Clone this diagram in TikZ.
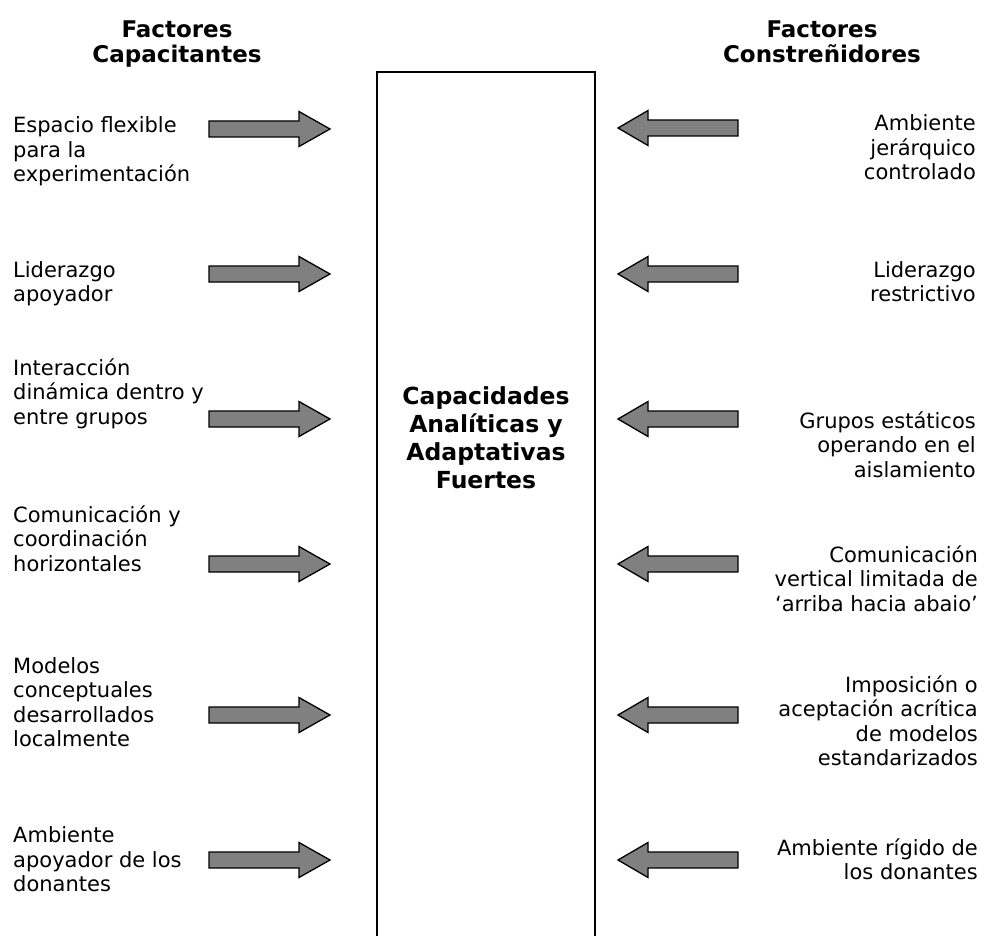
\documentclass[tikz,border=0pt]{standalone}
\usepackage{fontspec}
\setmainfont{DejaVu Sans}
\begin{document}
\begin{tikzpicture}[x=1pt,y=-1pt,
  lbl/.style={inner sep=0pt,font=\fontsize{21pt}{24.5pt}\selectfont},
  lleft/.style={lbl,align=left,anchor=base west},
  lright/.style={lbl,align=right,anchor=base east},
  hdr/.style={inner sep=0pt,align=center,anchor=base,font=\bfseries\fontsize{23pt}{24.5pt}\selectfont},
  arrowfill/.style={draw=black,line width=1.3pt,fill=black!50,line join=miter},
  rarr/.pic={\path[arrowfill] (0,-8) -- (90,-8) -- (90,-17.5) -- (121,0) -- (90,17.5) -- (90,8) -- (0,8) -- cycle;},
  larr/.pic={\path[arrowfill] (0,-8) -- (-90,-8) -- (-90,-17.5) -- (-120,0) -- (-90,17.5) -- (-90,8) -- (0,8) -- cycle;}
]
\useasboundingbox (0,0) rectangle (988,936);
\fill[white] (0,0) rectangle (988,936);

% central box (open at the bottom edge of the picture)
\coordinate (bl) at (377,937);
\coordinate (tl) at (377,72);
\coordinate (tr) at (595,72);
\coordinate (br) at (595,937);
\draw[line width=2pt,line join=miter] (bl) -- (tl) -- (tr) -- (br);
\node[hdr,font=\bfseries\fontsize{23.5pt}{28pt}\selectfont] (core) at (486,488) {Capacidades\\Analíticas y\\Adaptativas\\Fuertes};

% headers
\node[hdr] (hl) at (177,62.5) {Factores\\Capacitantes};
\node[hdr] (hr) at (822,62.5) {Factores\\Constreñidores};

% left labels (anchored at the baseline of the last line)
\node[lleft] (l1) at (13,182) {Espacio flexible\\para la\\experimentación};
\node[lleft] (l2) at (13,301.5) {Liderazgo\\apoyador};
\node[lleft] (l3) at (13,424) {Interacción\\dinámica dentro y\\entre grupos};
\node[lleft] (l4) at (13,571) {Comunicación y\\coordinación\\horizontales};
\node[lleft] (l5) at (13,746.5) {Modelos\\conceptuales\\desarrollados\\localmente};
\node[lleft] (l6) at (13,891.5) {Ambiente\\apoyador de los\\donantes};

% right labels
\node[lright] (r1) at (976,180) {Ambiente\\jerárquico\\controlado};
\node[lright] (r2) at (976,301.5) {Liderazgo\\restrictivo};
\node[lright] (r3) at (976,477) {Grupos estáticos\\operando en el\\aislamiento};
\node[lright] (r4) at (978,611) {Comunicación\\vertical limitada de\\‘arriba hacia abaio’};
\node[lright] (r5) at (978,765.5) {Imposición o\\aceptación acrítica\\de modelos\\estandarizados};
\node[lright] (r6) at (978,879.5) {Ambiente rígido de\\los donantes};

% arrows
\pic at (209,129) {rarr};
\pic at (209,274) {rarr};
\pic at (209,419) {rarr};
\pic at (209,564) {rarr};
\pic at (209,715) {rarr};
\pic at (209,860) {rarr};

\pic at (738,128) {larr};
\pic at (738,274) {larr};
\pic at (738,419) {larr};
\pic at (738,564) {larr};
\pic at (738,715) {larr};
\pic at (738,860) {larr};
\end{tikzpicture}
\end{document}
